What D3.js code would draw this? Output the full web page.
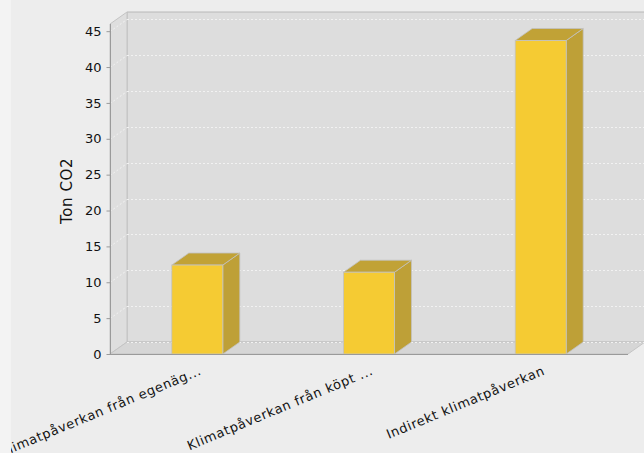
<!DOCTYPE html>
<html>
<head>
<meta charset="utf-8">
<script src="https://cdn.jsdelivr.net/npm/d3@7"></script>
<style>
  body { margin: 0; background: #F3F3F3; }
  svg { display: block; }
  text { font-family: "DejaVu Sans", sans-serif; fill: #111; }
</style>
</head>
<body>
<svg id="chart" width="644" height="453"></svg>
<script>
const categories = ["Klimatpåverkan från egenäg...", "Klimatpåverkan från köpt ...", "Indirekt klimatpåverkan"];
const values = [12.4, 11.4, 43.7];
const yTicks = [0, 5, 10, 15, 20, 25, 30, 35, 40, 45];
const yLabel = "Ton CO2";

const svg = d3.select("#chart");
const W = 644, H = 453;
const pLeft = 110, pRight = 628, pBottom = 354, pTop = 24;
const DX = 17, DY = 12;

svg.append("defs").append("clipPath").attr("id", "chartClip")
  .append("rect").attr("x", 11).attr("y", 0).attr("width", W - 11).attr("height", H);
const root = svg.append("g").attr("clip-path", "url(#chartClip)");

root.append("rect").attr("x", 11).attr("y", 0).attr("width", W - 11).attr("height", H).attr("fill", "#EDEDED");

const x = d3.scaleBand().domain(categories).range([pLeft, pRight]).paddingInner(0.703).paddingOuter(0.36);
const y = d3.scaleLinear().domain([0, 46]).range([pBottom, pTop]);

const wall = root.append("g");
wall.append("polygon")
  .attr("points", [[pLeft + DX, pTop - DY], [pRight + DX + 20, pTop - DY], [pRight + DX + 20, pBottom - DY], [pLeft + DX, pBottom - DY]].join(" "))
  .attr("fill", "#DDDDDD").attr("stroke", "#B8B8B8").attr("stroke-width", 1);
wall.append("polygon")
  .attr("points", [[pLeft, pTop], [pLeft + DX, pTop - DY], [pLeft + DX, pBottom - DY], [pLeft, pBottom]].join(" "))
  .attr("fill", "#DEDEDE").attr("stroke", "#C4C4C4").attr("stroke-width", 1);
wall.append("polygon")
  .attr("points", [[pLeft, pBottom], [pRight, pBottom], [pRight + DX, pBottom - DY], [pLeft + DX, pBottom - DY]].join(" "))
  .attr("fill", "#D6D6D6").attr("stroke", "#C4C4C4").attr("stroke-width", 1);

const grid = root.append("g").attr("stroke", "#F2F2F2").attr("stroke-width", 1).attr("stroke-dasharray", "2,2");
yTicks.forEach(v => {
  const yy = Math.round(y(v)) + 0.5;
  grid.append("line").attr("x1", pLeft + DX).attr("x2", W).attr("y1", yy - DY).attr("y2", yy - DY);
  if (v > 0) grid.append("line").attr("x1", pLeft).attr("x2", pLeft + DX).attr("y1", yy).attr("y2", yy - DY);
});

const bars = root.append("g");
categories.forEach((c, i) => {
  const xl = x(c), xr = x(c) + x.bandwidth();
  const yv = y(values[i]), y0 = y(0);
  bars.append("polygon")
    .attr("points", [[xr, yv], [xr + DX, yv - DY], [xr + DX, y0 - DY], [xr, y0]].join(" "))
    .attr("fill", "#BEA037").attr("stroke", "#C2C2C2").attr("stroke-width", 0.8);
  bars.append("polygon")
    .attr("points", [[xl, yv], [xl + DX, yv - DY], [xr + DX, yv - DY], [xr, yv]].join(" "))
    .attr("fill", "#C1A236").attr("stroke", "#C2C2C2").attr("stroke-width", 0.8);
  bars.append("rect")
    .attr("x", xl).attr("y", yv).attr("width", x.bandwidth()).attr("height", y0 - yv)
    .attr("fill", "#F5CB33").attr("stroke", "#C2C2C2").attr("stroke-width", 0.8);
});

root.append("line").attr("x1", pLeft).attr("x2", pRight).attr("y1", pBottom + 0.5).attr("y2", pBottom + 0.5)
  .attr("stroke", "#9A9A9A").attr("stroke-width", 1);

const yAxis = root.append("g").attr("transform", `translate(${pLeft + 0.5},0)`)
  .call(d3.axisLeft(y).tickValues(yTicks).tickSize(4).tickPadding(5));
yAxis.select(".domain").attr("stroke", "#9A9A9A").attr("d", `M0,${pTop}V${pBottom + 0.5}`);
yAxis.selectAll(".tick line").attr("stroke", "#9A9A9A");
yAxis.selectAll(".tick text").attr("font-size", 13)
  .style("font-family", '"DejaVu Sans", sans-serif').attr("fill", "#111");

root.append("text").attr("transform", `translate(72,191) rotate(-90)`)
  .attr("text-anchor", "middle").attr("font-size", 15).attr("letter-spacing", "0.6px").text(yLabel);

const xAxis = root.append("g").attr("transform", `translate(0,${pBottom})`)
  .call(d3.axisBottom(x).tickSize(0).tickPadding(0));
xAxis.select(".domain").remove();
xAxis.selectAll(".tick text")
  .attr("font-size", 13).attr("letter-spacing", "0.65px")
  .style("font-family", '"DejaVu Sans", sans-serif').attr("fill", "#111")
  .attr("text-anchor", "end").attr("dy", null).attr("y", 0)
  .attr("transform", "translate(5,20) rotate(-22.5)");
</script>
</body>
</html>
